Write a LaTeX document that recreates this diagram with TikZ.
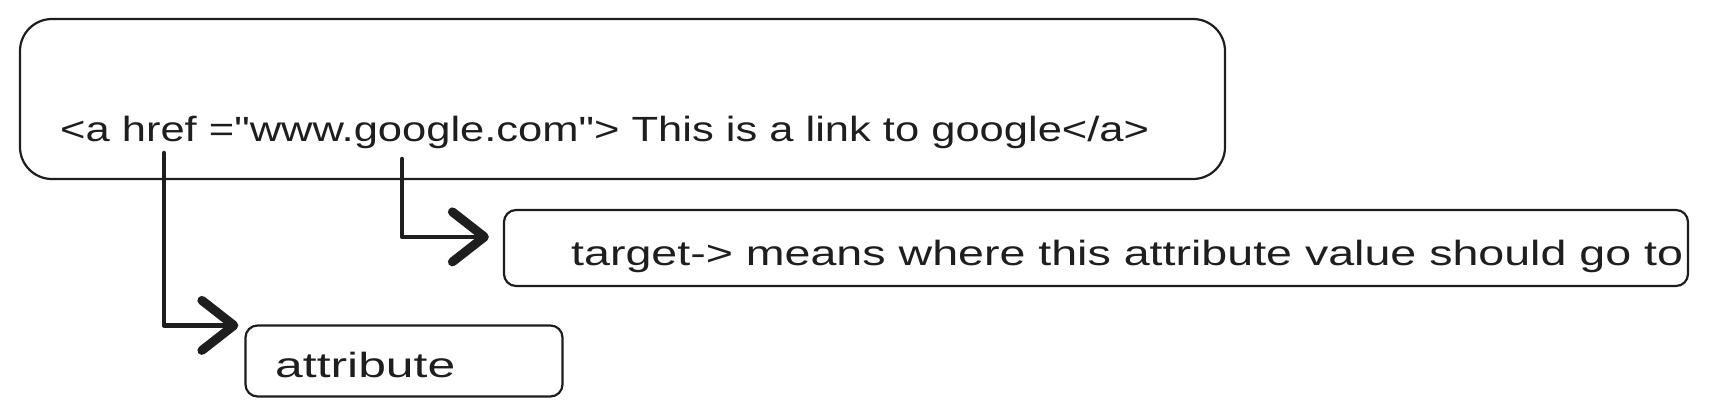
\documentclass[tikz,border=0pt]{standalone}
\usepackage{fontspec}
\setmainfont{Liberation Sans}[Ligatures=TeXOff]
\usetikzlibrary{arrows.meta}
\definecolor{ink}{HTML}{1E1E1E}
\tikzset{
  boxshape/.style={draw=ink, line width=2.2pt, inner sep=0pt},
  handtext/.style={anchor=base west, inner sep=0pt, text=ink, font=\fontsize{35}{40}\selectfont},
  arr/.style={draw=ink, line width=4.5pt, line join=round, line cap=round,
    -{Straight Barb[length=32pt, width=50pt, line width=9pt, round]}}
}
\begin{document}
\begin{tikzpicture}[x=1pt,y=-1pt]
\useasboundingbox[fill=white] (0,0) rectangle (1709,417);
% boxes
\node[boxshape, rounded corners=32pt, minimum width=1205pt, minimum height=160pt] (main) at (622.5,99) {};
\node[boxshape, rounded corners=12pt, minimum width=1184pt, minimum height=76pt] (target) at (1096,248) {};
\node[boxshape, rounded corners=12pt, minimum width=317pt, minimum height=71pt] (attr) at (404,361) {};
% texts
\node[handtext] (code) at (60,142) {\resizebox{1089pt}{\height}{<a href ="www.google.com"> This is a link to google</a>}};
\node[handtext] (targettext) at (571,265) {\resizebox{1112pt}{\height}{target-> means where this attribute value should go to}};
\node[handtext] (attrtext) at (275,377) {\resizebox{180pt}{\height}{attribute}};
% connectors
\coordinate (s1) at (164,153);
\coordinate (s2) at (402,159);
\draw[arr] (s1) |- ([xshift=-6pt,yshift=-1pt]attr.north west);
\draw[arr] (s2) |- ([xshift=-14pt,yshift=-28pt]target.north west);
\end{tikzpicture}
\end{document}
